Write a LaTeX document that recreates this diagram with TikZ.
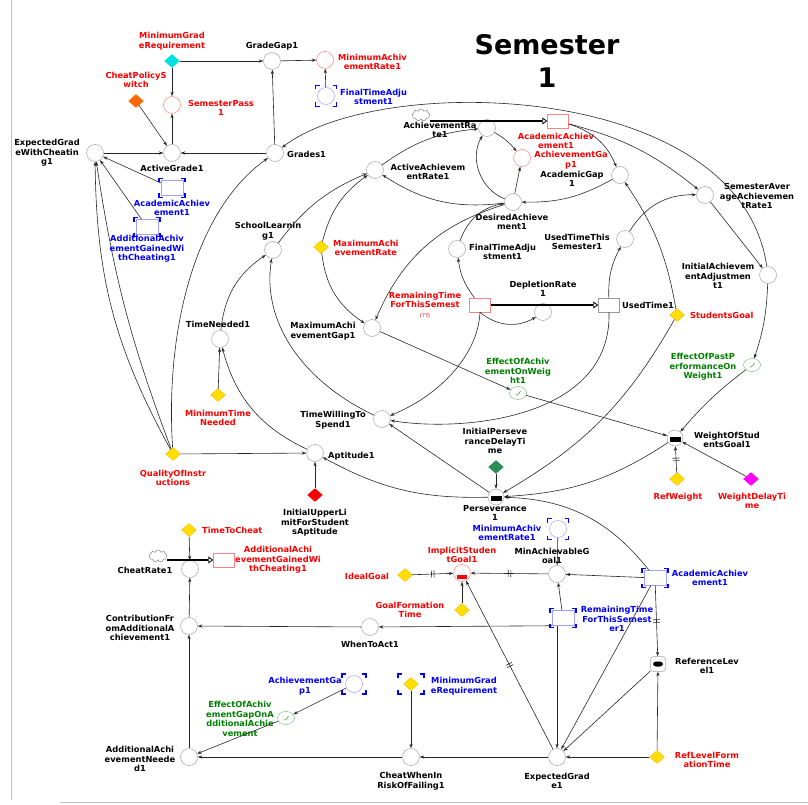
\documentclass[tikz,border=0pt]{standalone}
\usepackage{fontspec}
\setmainfont{DejaVu Sans}
\usetikzlibrary{arrows.meta,shapes.geometric,shapes.symbols,decorations.markings}
\definecolor{vred}{RGB}{255,0,0}
\definecolor{vblue}{RGB}{0,0,255}
\definecolor{vgreen}{RGB}{0,128,0}
\definecolor{vyellow}{RGB}{255,222,0}
\definecolor{vcyan}{RGB}{0,225,225}
\definecolor{vorange}{RGB}{255,102,0}
\definecolor{vmag}{RGB}{255,0,255}
\definecolor{vsea}{RGB}{46,139,87}
\definecolor{lblue}{RGB}{160,160,255}
\definecolor{lred}{RGB}{255,130,130}
\newcommand\shadowmark[4]{%
 \draw[brkc] (#1-#3,#2-#4+4) -- (#1-#3,#2-#4) -- (#1-#3+4,#2-#4);
 \draw[brkc] (#1+#3-4,#2-#4) -- (#1+#3,#2-#4) -- (#1+#3,#2-#4+4);
 \draw[brkc] (#1-#3,#2+#4-4) -- (#1-#3,#2+#4) -- (#1-#3+4,#2+#4);
 \draw[brkc] (#1+#3-4,#2+#4) -- (#1+#3,#2+#4) -- (#1+#3,#2+#4-4);}
\begin{document}
\begin{tikzpicture}[x=1pt,y=-1pt,
  font=\fontsize{8.3}{9.6}\selectfont\bfseries,
  auxv/.style={circle, draw=black!35, line width=0.5pt, minimum size=17pt, inner sep=0pt, fill=white},
  auxr/.style={auxv, draw=lred},
  auxb/.style={auxv, draw=lblue},
  stk/.style={rectangle, draw=black!40, line width=0.5pt, minimum width=21pt, minimum height=14pt, inner sep=0pt, fill=white},
  stkr/.style={stk, draw=lred},
  stkb/.style={stk, draw=lblue, minimum width=22pt, minimum height=15pt},
  cnst/.style={diamond, aspect=1.1, fill=vyellow, draw=orange!50!vyellow, line width=0.3pt, minimum width=15pt, minimum height=13pt, inner sep=0pt},
  lkp/.style={ellipse, draw=vgreen!60, line width=0.4pt, minimum width=17pt, minimum height=13pt, inner sep=0pt, fill=white,
     path picture={\draw[vgreen, line width=0.4pt] ([shift={(-3.5pt,-2pt)}]path picture bounding box.center) -- ++(2pt,0pt) .. controls ++(2pt,0pt) and ++(-1pt,-2pt) .. ++(4pt,4pt);}},
  smoothv/.style={circle, draw=black!35, line width=0.5pt, minimum size=16pt, inner sep=0pt, fill=white,
     path picture={\fill[black] ([shift={(-5.5pt,-3.5pt)}]path picture bounding box.center) rectangle ++(11pt,5pt);}},
  smoothr/.style={smoothv, draw=lred, minimum size=17pt,
     path picture={\fill[vred] ([shift={(-5pt,-6pt)}]path picture bounding box.center) rectangle ++(10pt,4pt);}},
  smoothsq/.style={rectangle, rounded corners=3pt, draw=black!35, line width=0.5pt, minimum size=15pt, inner sep=0pt, fill=white,
     path picture={\fill[black] ([shift={(-5pt,-2.5pt)}]path picture bounding box.center) rectangle ++(10pt,5pt);}},
  cld/.style={cloud, cloud puffs=9, draw=black!50, line width=0.5pt, minimum width=18pt, minimum height=12pt, inner sep=0pt, fill=white},
  lbl/.style={align=center, inner sep=0pt, text=black},
  lr/.style={lbl, text=vred},
  lb/.style={lbl, text=vblue},
  lg/.style={lbl, text=vgreen},
  brkc/.style={draw=vblue, line width=1.1pt},
  conn/.style={draw=black!85, line width=0.6pt, -{Stealth[length=4.5pt,width=3.2pt]}},
  pipev/.style={draw=black, line width=2.2pt, -{Triangle[open,length=5pt,width=7pt,line width=0.8pt]}},
  dly/.style={postaction={decorate, decoration={markings, mark=at position 0.5 with {\draw[line width=0.6pt,-] (-1.3pt,-3.5pt)--(-1.3pt,3.5pt) (1.3pt,-3.5pt)--(1.3pt,3.5pt);}}}}
]
\useasboundingbox (0,0) rectangle (808,805);
\draw[black!25, line width=0.8pt] (11,0) -- (11,800);
\draw[black!25, line width=0.8pt] (60,802) -- (808,802);

% title
\node[font=\fontsize{27}{33}\selectfont\bfseries, align=center] (title) at (547,61) {Semester\\1};

% ---------- top left
\node[cnst, fill=vcyan, draw=vcyan] (mgr) at (172,61) {};
\node[lr] (mgr-l) at (172,41) {MinimumGrad\\eRequirement};
\node[auxv] (gg) at (272,61) {};
\node[lbl] (gg-l) at (272,46) {GradeGap1};
\node[cnst, fill=vorange, draw=vorange] (cps) at (136,101) {};
\node[lr] (cps-l) at (136,80) {CheatPolicyS\\witch};
\node[auxr] (sp) at (172,105) {};
\node[lr] (sp-l) at (221,108) {SemesterPass\\1};
\node[auxv] (ag) at (172,153) {};
\node[lbl] (ag-l) at (172,168) {ActiveGrade1};
\node[auxv] (egc) at (95,153) {};
\node[lbl] (egc-l) at (47,153) {ExpectedGrad\\eWithCheatin\\g1};
\node[auxv] (gr) at (275,153) {};
\node[lbl, anchor=west] (gr-l) at (287,154) {Grades1};
\node[stkb] (aa1) at (172,188) {};
\shadowmark{172}{188}{13}{9.5}
\node[lb] (aa1-l) at (172,208) {AcademicAchiev\\ement1};
\node[stkb] (agc1) at (147,227) {};
\shadowmark{147}{227}{13}{9.5}
\node[lb] (agc1-l) at (147,249) {AdditionalAchiv\\ementGainedWi\\thCheating1};
\node[auxr] (mar1r) at (325,60) {};
\node[lr, anchor=west] (mar1r-l) at (338,62) {MinimumAchiv\\ementRate1};
\node[auxb] (fta1b) at (326,96) {};
\shadowmark{326}{96}{10.5}{10.5}
\node[lb, anchor=west] (fta1b-l) at (340,97) {FinalTimeAdju\\stment1};

% ---------- top middle / right
\node[cld] (cl1) at (421,115) {};
\node[stkr] (aab) at (558,121) {};
\node[lr] (aab-l) at (556,141) {AcademicAchiev\\ement1};
\node[auxv] (ar1) at (487,128) {};
\node[lbl] (ar1-l) at (440,130) {AchievementRa\\te1};
\node[auxr] (agp1r) at (522,158) {};
\node[lr] (agp1r-l) at (571,160) {AchievementGa\\p1};
\node[auxv] (acg1) at (620,175) {};
\node[lbl] (acg1-l) at (572,179) {AcademicGap\\1};
\node[auxv] (aar1) at (375,170) {};
\node[lbl] (aar1-l) at (428,172) {ActiveAchievem\\entRate1};
\node[auxv] (da1) at (513,202) {};
\node[lbl] (da1-l) at (512,222) {DesiredAchieve\\ment1};
\node[auxv] (sl1) at (273,250) {};
\node[lbl] (sl1-l) at (268,231) {SchoolLearnin\\g1};
\node[cnst] (mar) at (321,247) {};
\node[lr, anchor=west] (mar-l) at (333,248) {MaximumAchi\\evementRate};
\node[auxv] (fta1) at (457,249) {};
\node[lbl, anchor=west] (fta1-l) at (469,252) {FinalTimeAdju\\stment1};
\node[auxv] (saar1) at (705,195) {};
\node[lbl] (saar1-l) at (757,196) {SemesterAver\\ageAchievemen\\tRate1};
\node[auxv] (uts1) at (625,239) {};
\node[lbl] (uts1-l) at (577,242) {UsedTimeThis\\Semester1};
\node[auxv] (iaa1) at (768,275) {};
\node[lbl] (iaa1-l) at (718,276) {InitialAchievem\\entAdjustmen\\t1};

% ---------- middle
\node[stkr] (rtb) at (480,305) {};
\node[lr] (rtb-l) at (425,305) {RemainingTime\\ForThisSemest\\{\fontsize{5.5}{6}\selectfont\mdseries(??)}};
\node[auxv] (dr1) at (543,312) {};
\node[lbl] (dr1-l) at (543,289) {DepletionRate\\1};
\node[stk] (ut1) at (609,305) {};
\node[lbl, anchor=west] (ut1-l) at (622,305) {UsedTime1};
\node[cnst] (sg) at (677,315) {};
\node[lr, anchor=west] (sg-l) at (690,315) {StudentsGoal};
\node[auxv] (mag1) at (372,328) {};
\node[lbl] (mag1-l) at (323,331) {MaximumAchi\\evementGap1};
\node[auxv] (tn1) at (220,339) {};
\node[lbl] (tn1-l) at (218,324) {TimeNeeded1};
\node[cnst] (mtn) at (218,395) {};
\node[lr] (mtn-l) at (218,418) {MinimumTime\\Needed};
\node[lkp] (eaw1) at (518,393) {};
\node[lg] (eaw1-l) at (518,371) {EffectOfAchiv\\ementOnWeig\\ht1};
\node[lkp] (epw1) at (752,365) {};
\node[lg] (epw1-l) at (703,367) {EffectOfPastP\\erformanceOn\\Weight1};
\node[auxv] (tws1) at (382,419) {};
\node[lbl] (tws1-l) at (333,420) {TimeWillingTo\\Spend1};
\node[smoothv] (wsg1) at (675,438) {};
\node[lbl] (wsg1-l) at (727,440) {WeightOfStud\\entsGoal1};
\node[cnst, fill=vsea, draw=vsea] (ipdt) at (496,467) {};
\node[lbl] (ipdt-l) at (495,441) {InitialPerseve\\ranceDelayTi\\me};
\node[auxv] (ap1) at (315,453) {};
\node[lbl, anchor=west] (ap1-l) at (328,456) {Aptitude1};
\node[cnst] (qoi) at (173,454) {};
\node[lr] (qoi-l) at (173,478) {QualityOfInstr\\uctions};
\node[cnst, fill=vred, draw=vred] (iul) at (315,495) {};
\node[lbl] (iul-l) at (315,523) {InitialUpperLi\\mitForStudent\\sAptitude};
\node[smoothv] (pers1) at (496,497) {};
\node[lbl] (pers1-l) at (495,513) {Perseverance\\1};
\node[cnst] (rw) at (677,479) {};
\node[lr] (rw-l) at (678,497) {RefWeight};
\node[cnst, fill=vmag, draw=vmag] (wdt) at (751,479) {};
\node[lr] (wdt-l) at (752,501) {WeightDelayTi\\me};

% ---------- bottom
\node[cnst] (ttc) at (189,530) {};
\node[lr, anchor=west] (ttc-l) at (202,530) {TimeToCheat};
\node[cld] (cl2) at (158,556) {};
\node[auxv] (cr1) at (190,569) {};
\node[lbl] (cr1-l) at (145,570) {CheatRate1};
\node[stkr] (agcr) at (224,560) {};
\node[lr] (agcr-l) at (278,560) {AdditionalAchi\\evementGainedWi\\thCheating1};
\node[auxv] (cfa1) at (189,626) {};
\node[lbl] (cfa1-l) at (140,628) {ContributionFr\\omAdditionalA\\chievement1};
\node[auxv] (wta1) at (370,627) {};
\node[lbl] (wta1-l) at (370,644) {WhenToAct1};
\node[cnst] (ig) at (405,575) {};
\node[lr] (ig-l) at (367,576) {IdealGoal};
\node[smoothr] (isg1) at (462,573) {};
\node[lr] (isg1-l) at (462,555) {ImplicitStuden\\tGoal1};
\node[cnst] (gft) at (462,610) {};
\node[lr] (gft-l) at (410,610) {GoalFormation\\Time};
\node[auxb] (mar1b) at (558,529) {};
\shadowmark{558}{529}{10.5}{10.5}
\node[lb] (mar1b-l) at (507,533) {MinimumAchiv\\ementRate1};
\node[auxv] (mag) at (557,574) {};
\node[lbl] (mag-l) at (552,556) {MinAchievableG\\oal1};
\node[stkb] (aa1b) at (655,578) {};
\shadowmark{655}{578}{13}{9.5}
\node[lb] (aa1b-l) at (710,578) {AcademicAchiev\\ement1};
\node[stkb] (rt1b) at (563,618) {};
\shadowmark{563}{618}{13}{9.5}
\node[lb] (rt1b-l) at (617,619) {RemainingTime\\ForThisSemest\\er1};
\node[smoothsq] (rl1) at (658,664) {};
\node[lbl] (rl1-l) at (707,666) {ReferenceLev\\el1};
\node[cnst] (rlft) at (657,757) {};
\node[lr] (rlft-l) at (707,760) {RefLevelForm\\ationTime};
\node[auxv] (eg1) at (557,757) {};
\node[lbl] (eg1-l) at (557,781) {ExpectedGrad\\e1};
\node[auxv] (cwr1) at (411,757) {};
\node[lbl] (cwr1-l) at (411,781) {CheatWhenIn\\RiskOfFailing1};
\node[auxv] (aan1) at (189,757) {};
\node[lbl] (aan1-l) at (140,759) {AdditionalAchi\\evementNeede\\d1};
\node[auxb] (agp1b) at (354,684) {};
\shadowmark{354}{684}{12}{10}
\node[lb] (agp1b-l) at (305,686) {AchievementGa\\p1};
\node[lkp] (eag) at (286,718) {};
\node[lg] (eag-l) at (240,719) {EffectOfAchiv\\ementGapOnA\\dditionalAchie\\vement};
\node[cnst] (mgrb) at (411,684) {};
\shadowmark{411}{684}{13}{10}
\node[lb] (mgrb-l) at (464,686) {MinimumGrad\\eRequirement};

% ---------- connectors: top left
\draw[conn] (mgr) -- (gg);
\draw[conn] (mgr) -- (sp);
\draw[conn] (ag) -- (sp);
\draw[conn] (cps) -- (ag);
\draw[conn] (egc) -- (ag);
\draw[conn] (gr) -- (ag);
\draw[conn] (gr) -- (gg);
\draw[conn] (gg) -- (mar1r);
\draw[conn] (fta1b) -- (mar1r);
\draw[conn] (aa1) -- (egc);
\draw[conn] (agc1) -- (egc);
\draw[conn] (qoi) to[bend left=14] (egc);
\draw[conn] (qoi) to[bend left=6] (egc);
\draw[conn] (qoi) .. controls (165,330) and (195,210) .. (gr);
\draw[conn] (qoi) -- (ap1);
\draw[conn] (iaa1) .. controls (740,80) and (380,72) .. (gr);

% top middle/right
\draw[conn] (aab) to[bend left=12] (saar1);
\draw[conn] (aab) to[bend left=25] (acg1);
\draw[conn] (saar1) -- (iaa1);
\draw[conn] (uts1) to[bend left=30] (saar1);
\draw[conn] (ut1) to[bend left=15] (uts1);
\draw[conn] (sg) to[bend right=12] (acg1);
\draw[conn] (acg1) to[bend left=15] (da1);
\draw[conn] (aar1) to[bend left=15] (ar1);
\draw[conn] (da1) to[bend left=20] (aar1);
\draw[conn] (da1) to[bend left=50] (ar1);
\draw[conn] (ar1) to[bend left=10] (agp1r);
\draw[conn] (da1) -- (agp1r);
\draw[conn] (sl1) to[bend left=15] (aar1);
\draw[conn] (mar) to[bend left=20] (aar1);
\draw[conn] (mar) to[bend right=25] (mag1);
\draw[conn] (da1) to[bend right=25] (mag1);
\draw[conn] (rtb) to[bend left=15] (fta1);
\draw[conn] (fta1) to[bend left=30] (da1);
\draw[conn] (rtb.south) to[bend right=35] (dr1);
\draw[conn] (rtb.south) .. controls (478,355) and (440,395) .. (tws1);
\draw[conn] (ut1.south) .. controls (612,420) and (460,432) .. (tws1);
\draw[conn] (tws1) .. controls (300,380) and (262,320) .. (sl1);
\draw[conn] (tn1) to[bend left=25] (sl1);
\draw[conn] (ap1) to[bend left=25] (tn1);
\draw[conn] (mtn) -- (tn1);
\draw[conn] (mag1) -- (eaw1);
\draw[conn] (eaw1) -- (wsg1);
\draw[conn] (iaa1) to[bend left=8] (epw1);
\draw[conn] (epw1) to[bend right=6] (wsg1);
\draw[conn, dly] (rw) -- (wsg1);
\draw[conn] (wdt) -- (wsg1);
\draw[conn] (wsg1) to[bend left=15] (pers1);
\draw[conn] (sg) to[bend left=15] (pers1);
\draw[conn] (ipdt) -- (pers1);
\draw[conn] (pers1) to[bend left=15] (ap1);
\draw[conn] (pers1) -- (tws1);
\draw[conn] (aa1b) to[bend right=25] (pers1);
\draw[conn] (iul) -- (ap1);

% bottom
\draw[conn, dly] (ig) -- (isg1);
\draw[conn, dly] (mag) -- (isg1);
\draw[conn] (gft) -- (isg1);
\draw[conn] (mar1b) -- (mag);
\draw[conn] (aa1b) -- (mag);
\draw[conn] (rt1b) -- (mag);
\draw[conn] (rt1b.south west) -- (wta1);
\draw[conn] ([xshift=-6pt]rt1b.south) -- (eg1);
\draw[conn] (wta1) -- (cfa1);
\draw[conn] (eg1) -- (cwr1);
\draw[conn] (cwr1) -- (aan1);
\draw[conn] (rlft) -- (eg1);
\draw[conn] (rlft) -- (rl1);
\draw[conn, dly] (aa1b) -- (rl1);
\draw[conn] (rl1) -- (eg1);
\draw[conn] (aa1b) -- (eg1);
\draw[conn, dly] (eg1) -- (isg1);
\draw[conn] (aan1) -- (cfa1);
\draw[conn] (cfa1) -- (cr1);
\draw[conn] (ttc) -- (cr1);
\draw[conn] (agp1b) -- (eag);
\draw[conn] (eag) -- (aan1);
\draw[conn] (mgrb) -- (cwr1);

% pipes (flows)
\draw[pipev] (cl1.east |- aab.west) -- (aab.west);
\draw[pipev] (rtb.east) -- (ut1.west);
\draw[pipev] (cl2.east |- agcr.west) -- (agcr.west);
\end{tikzpicture}
\end{document}
